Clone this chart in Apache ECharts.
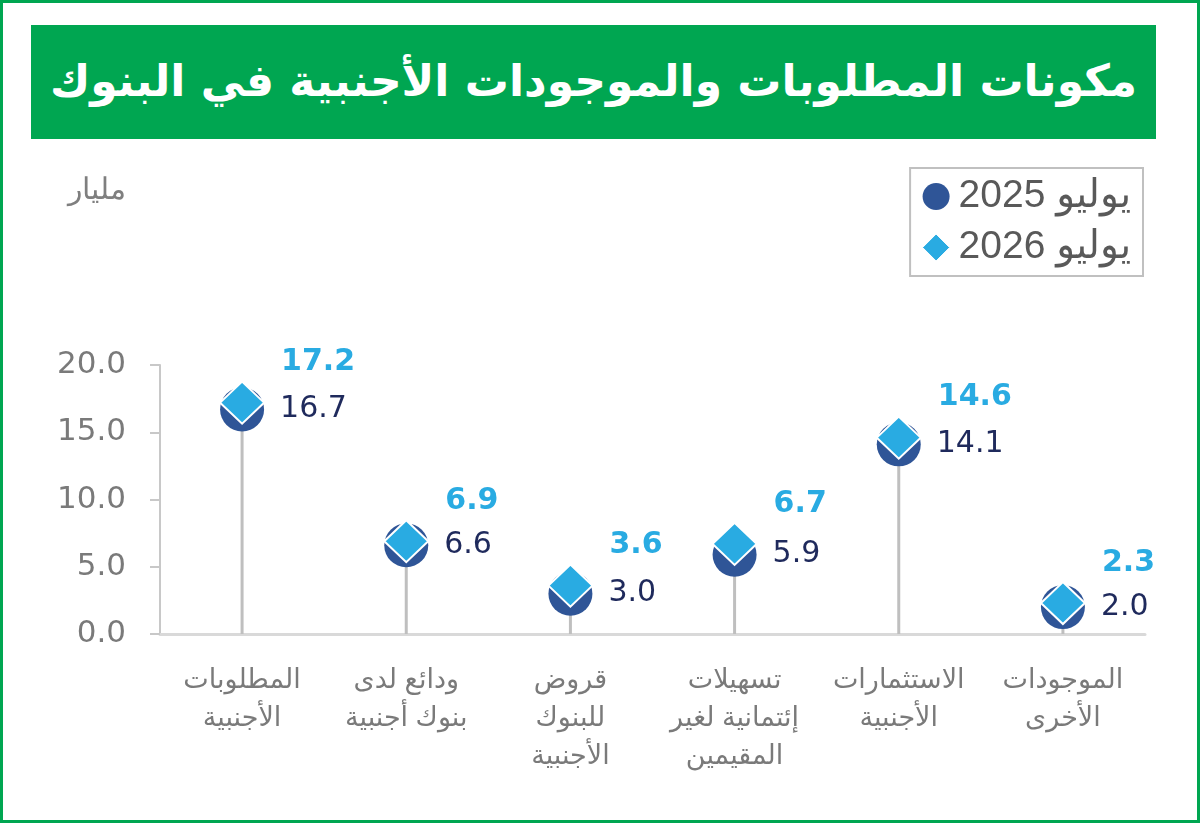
<!DOCTYPE html>
<html>
<head>
<meta charset="utf-8">
<script src="https://cdn.jsdelivr.net/npm/echarts@6/dist/echarts.min.js"></script>
<style>
    html, body { margin: 0; padding: 0; background: #fff; }
    #frame {
        position: relative; width: 1200px; height: 823px; box-sizing: border-box;
        border: 3px solid #00A651; overflow: hidden;
    }
    #title {
        position: absolute; left: 28px; top: 22px; width: 1125px; height: 114px;
        background: #00A651; color: #fff; text-align: center; line-height: 112px;
        font-family: "DejaVu Sans", sans-serif; font-weight: bold; font-size: 44px;
        direction: rtl;
    }
    #chart { position: absolute; left: -3px; top: -3px; width: 1200px; height: 823px; }
</style>
</head>
<body>
<div id="frame">
    <div id="chart"></div>
    <div id="title">مكونات المطلوبات والموجودات الأجنبية في البنوك</div>
</div>
<script>
    // categories as shown from left to right
    var categories = [
        'المطلوبات\nالأجنبية',
        'ودائع لدى\nبنوك أجنبية',
        'قروض\nللبنوك\nالأجنبية',
        'تسهيلات\nإئتمانية لغير\nالمقيمين',
        'الاستثمارات\nالأجنبية',
        'الموجودات\nالأخرى'
    ];
    var july2025 = [16.7, 6.6, 3.0, 5.9, 14.1, 2.0];
    var july2026 = [17.2, 6.9, 3.6, 6.7, 14.6, 2.3];
    var seriesNames = ['2025 يوليو', '2026 يوليو'];
    var unitText = 'مليار';

    var fontAr = '"Liberation Sans", "DejaVu Sans", sans-serif';
    var fontNum = '"DejaVu Sans", sans-serif';

    var chart = echarts.init(document.getElementById('chart'));
    var option = {
        animation: false,
        textStyle: { fontFamily: fontAr },
        grid: { left: 160, right: 55, top: 365, bottom: 189 },
        legend: {
            data: [
                { name: seriesNames[0], icon: 'circle', itemStyle: { color: '#2F5597', opacity: 1 } },
                { name: seriesNames[1], icon: 'diamond', itemStyle: { color: '#29ABE2', borderColor: '#fff', borderWidth: 1, opacity: 1 } }
            ],
            orient: 'vertical',
            right: 57,
            top: 168,
            padding: [9, 12, 9, 12],
            itemGap: 12,
            itemWidth: 27,
            itemHeight: 27,
            borderColor: '#c0c0c0',
            borderWidth: 2,
            textStyle: { fontSize: 39, color: '#595959', fontFamily: fontAr, padding: [0, 0, 0, 4] }
        },
        graphic: [{
            type: 'text',
            left: 68,
            top: 176,
            style: { text: unitText, fill: '#7f7f7f', font: '30px "DejaVu Serif", serif' }
        }],
        xAxis: {
            type: 'category',
            data: categories,
            axisLine: { lineStyle: { color: '#d9d9d9', width: 3 } },
            axisTick: { show: false },
            axisLabel: {
                interval: 0,
                margin: 28,
                fontSize: 27,
                lineHeight: 38,
                color: '#7a7a7a',
                verticalAlign: 'top'
            }
        },
        yAxis: {
            type: 'value',
            min: 0,
            max: 20,
            interval: 5,
            splitLine: { show: false },
            axisLine: { show: true, lineStyle: { color: '#c8c8c8', width: 2 } },
            axisTick: { show: true, length: 10, lineStyle: { color: '#c8c8c8', width: 2 } },
            axisLabel: {
                fontSize: 31,
                fontFamily: fontNum,
                color: '#7a7a7a',
                margin: 34,
                formatter: function (v) { return v.toFixed(1); }
            }
        },
        series: [
            {
                name: 'stem',
                type: 'bar',
                data: july2025,
                barWidth: 3,
                silent: true,
                itemStyle: { color: '#bfbfbf' },
                z: 1
            },
            {
                name: seriesNames[0],
                type: 'scatter',
                data: july2025,
                symbol: 'circle',
                symbolSize: 44,
                itemStyle: { color: '#2F5597', opacity: 1 },
                label: {
                    show: true,
                    position: 'right',
                    distance: 16,
                    fontSize: 30,
                    fontFamily: fontNum,
                    color: '#1F2A5C',
                    formatter: function (p) { return p.value.toFixed(1); }
                },
                z: 3
            },
            {
                name: seriesNames[1],
                type: 'scatter',
                data: july2026,
                symbol: 'diamond',
                symbolSize: [44, 42],
                itemStyle: { color: '#29ABE2', borderColor: '#ffffff', borderWidth: 2, opacity: 1 },
                label: {
                    show: true,
                    position: 'right',
                    distance: 16,
                    offset: [0, -40],
                    fontSize: 30,
                    fontFamily: fontNum,
                    fontWeight: 'bold',
                    color: '#29ABE2',
                    formatter: function (p) { return p.value.toFixed(1); }
                },
                z: 4
            }
        ]
    };
    chart.setOption(option);
</script>
</body>
</html>
